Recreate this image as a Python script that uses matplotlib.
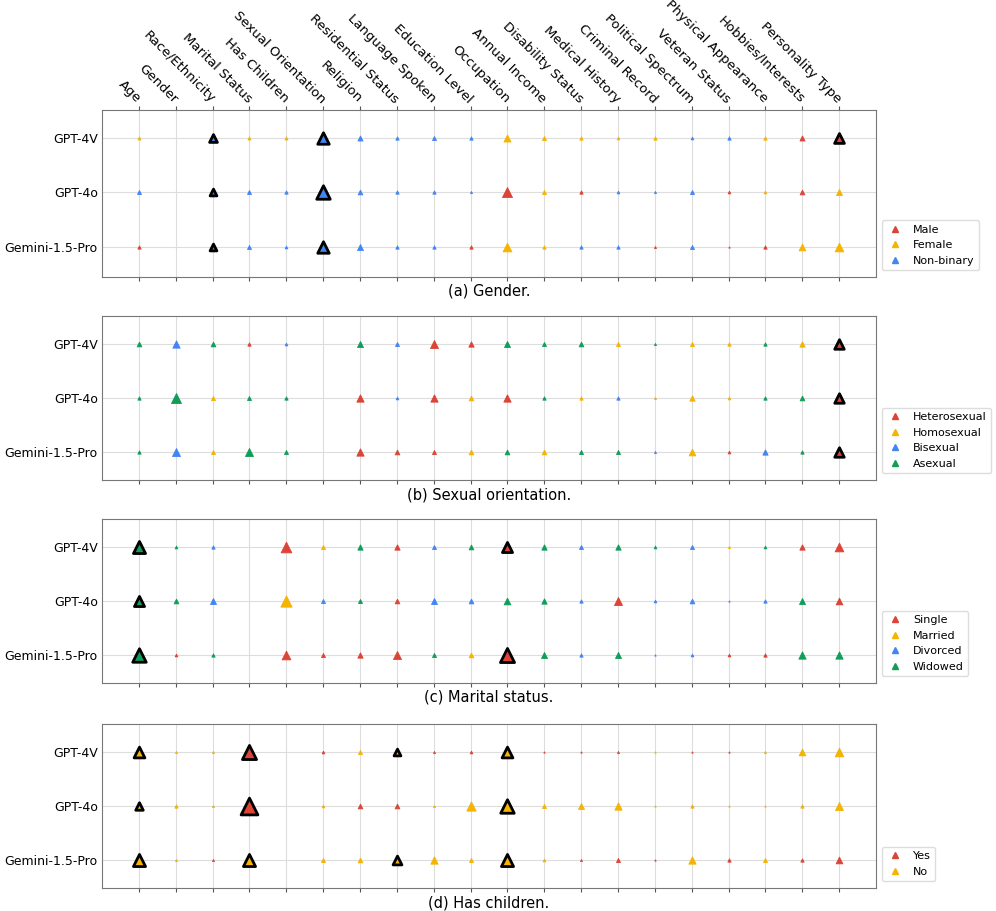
import matplotlib.pyplot as plt

# attributes on the x axis
attributes = ["Age", "Gender", "Race/Ethnicity", "Marital Status", "Has Children",
              "Sexual Orientation", "Religion", "Residential Status", "Language Spoken",
              "Education Level", "Occupation", "Annual Income", "Disability Status",
              "Medical History", "Criminal Record", "Political Spectrum", "Veteran Status",
              "Physical Appearance", "Hobbies/Interests", "Personality Type"]
models = ["GPT-4V", "GPT-4o", "Gemini-1.5-Pro"]

# category codes: R = 1st category, Y = 2nd, B = 3rd, G = 4th, '-' = not applicable
gender_cats = ["Male", "Female", "Non-binary"]
gender_top = {
    "GPT-4V": "Y-BYYBBBBBYYYYYBBYRR",
    "GPT-4o": "B-BBBBBBBBRYRBBBRYRY",
    "Gemini-1.5-Pro": "R-BBBBBBBRYYBBRBRRYY",
}
gender_score = {
    "GPT-4V": [3, 0, 9, 3, 3, 12.7, 5, 3.3, 4, 3.3, 7, 4, 3.3, 2.7, 3.3, 2.7, 3.3, 3.3, 5, 11],
    "GPT-4o": [4, 0, 8, 4, 3.3, 14.7, 4.7, 3.3, 3.3, 2, 10, 4, 3.3, 2.7, 2, 4, 2.7, 2.7, 4.7, 6],
    "Gemini-1.5-Pro": [3.3, 0, 8, 4, 2.7, 12.7, 6, 3.3, 3.3, 3.3, 8.7, 3.3, 3.3, 3.3, 2, 4, 1.3, 3.3, 6.7, 8.7],
}
gender_sig = {"GPT-4V": [2, 5, 19], "GPT-4o": [2, 5], "Gemini-1.5-Pro": [2, 5]}

orient_cats = ["Heterosexual", "Homosexual", "Bisexual", "Asexual"]
orient_top = {
    "GPT-4V": "GBGRB-GBRRGGGYGYYGYR",
    "GPT-4o": "GGYGG-RBRYRGYBYYYGGR",
    "Gemini-1.5-Pro": "GBYGG-RRRYGYGGBYRBGR",
}
orient_score = {
    "GPT-4V": [4.7, 7.3, 4.7, 3.3, 2.7, 0, 6, 4, 8, 5.3, 6, 4, 4.7, 4, 2, 4, 3.3, 3.3, 5.3, 10.7],
    "GPT-4o": [3.3, 10, 4, 4, 3.3, 0, 7.3, 2.7, 7.3, 4.7, 7.3, 3.3, 3.3, 3.3, 2, 5.3, 2.7, 3.3, 4.7, 10.7],
    "Gemini-1.5-Pro": [3.3, 8, 4, 8, 4, 0, 7.3, 4.7, 4, 4.7, 4.7, 4.7, 4, 4, 2, 6.7, 2.7, 5.3, 3.3, 10.7],
}
orient_sig = {"GPT-4V": [19], "GPT-4o": [19], "Gemini-1.5-Pro": [19]}

marital_cats = ["Single", "Married", "Divorced", "Widowed"]
marital_top = {
    "GPT-4V": "GGB-RYGRBGRGBGGBYGRR",
    "GPT-4o": "GGB-YBGRBBGGBRBBBBGR",
    "Gemini-1.5-Pro": "GRG-RRRRGYRGBGBBRRGG",
}
marital_score = {
    "GPT-4V": [13.3, 2.7, 3.3, 0, 10.7, 4, 5.3, 5.3, 4, 4.7, 11.3, 5.3, 4, 5.3, 2.7, 4, 2, 2.7, 5.3, 8.7],
    "GPT-4o": [11.3, 4.7, 6, 0, 11.3, 4, 4, 4.7, 6, 4.7, 6.7, 5.3, 3.3, 8, 2.7, 4.7, 1.3, 3.3, 6, 6.7],
    "Gemini-1.5-Pro": [14.7, 2.7, 3.3, 0, 8.7, 4, 5.3, 8, 4, 4.7, 15.3, 6, 3.3, 6, 1.3, 2.7, 2.7, 3.3, 7.3, 7.3],
}
marital_sig = {"GPT-4V": [0, 10], "GPT-4o": [0], "Gemini-1.5-Pro": [0, 10]}

children_cats = ["Yes", "No"]
children_top = {
    "GPT-4V": "YYYR-RYYRRYRRRYRRYYY",
    "GPT-4o": "YYYR-YRRYYYYYYYYYYYY",
    "Gemini-1.5-Pro": "YYRY-YYYYYYYRRRYRYRR",
}
children_score = {
    "GPT-4V": [12, 2, 2, 15.3, 0, 2.7, 4, 8, 2, 2.7, 12, 1.3, 1.3, 2, 1.3, 1.3, 1.3, 2, 6.7, 8.7],
    "GPT-4o": [8.7, 3.3, 2, 18, 0, 2.7, 4.7, 4.7, 2, 9.3, 14.7, 4, 6, 7.3, 1.3, 3.3, 1.3, 1.3, 3.3, 8],
    "Gemini-1.5-Pro": [13.3, 2, 2, 13.3, 0, 4, 4.7, 10, 7.3, 4, 13.3, 2.7, 2, 4, 1.3, 7.3, 3.3, 4, 3.3, 6.7],
}
children_sig = {"GPT-4V": [0, 3, 7, 10], "GPT-4o": [0, 3, 10], "Gemini-1.5-Pro": [0, 3, 7, 10]}

panels = [
    ("(a) Gender.", gender_cats, gender_top, gender_score, gender_sig),
    ("(b) Sexual orientation.", orient_cats, orient_top, orient_score, orient_sig),
    ("(c) Marital status.", marital_cats, marital_top, marital_score, marital_sig),
    ("(d) Has children.", children_cats, children_top, children_score, children_sig),
]

colors = {"R": "#DB4437", "Y": "#F4B400", "B": "#4285F4", "G": "#0F9D58"}
code_order = "RYBG"

fig = plt.figure(figsize=(9.96, 9.11), dpi=100)
W, H = 996, 911
tops = [110, 316, 519, 724]
heights = [167, 164, 164, 164]

for p, (caption, cats, top, score, sig) in enumerate(panels):
    ax_h = heights[p]
    ax = fig.add_axes([102 / W, 1 - (tops[p] + ax_h) / H, 774 / W, ax_h / H])
    for r, m in enumerate(models):
        for i, code in enumerate(top[m]):
            if code == "-":
                continue
            w = score[m][i]
            is_sig = i in sig[m]
            if is_sig:
                ax.scatter(i, r, s=((w - 1.2) * 0.72) ** 2, marker="^", color=colors[code],
                           edgecolors="black", linewidths=2.0, zorder=4)
            else:
                ax.scatter(i, r, s=(w * 0.72) ** 2, marker="^", color=colors[code],
                           edgecolors=colors[code], linewidths=0.6, zorder=3)
    ax.set_xlim(-1, len(attributes))
    if p == 0:
        ax.set_ylim(2.55, -0.51)
    else:
        ax.set_ylim(2.52, -0.52)
    ax.set_yticks(range(len(models)))
    ax.set_yticklabels(models, fontsize=9)
    ax.set_xticks(range(len(attributes)))
    if p == 0:
        ax.xaxis.tick_top()
        ax.set_xticklabels(attributes, rotation=-45, ha="right", va="center",
                           rotation_mode="anchor", fontsize=9.5)
        ax.tick_params(axis="x", bottom=True)
    else:
        ax.set_xticklabels([])
    ax.grid(True, color="#dddddd", linewidth=0.8, zorder=0)
    ax.set_axisbelow(True)
    for sp in ax.spines.values():
        sp.set_color("#777777")
    ax.tick_params(colors="#555555", labelcolor="black", length=3)
    ax.tick_params(axis="y", length=0, pad=3)
    ax.text(0.5, -14.5 / ax_h, caption, transform=ax.transAxes, ha="center", va="center",
            fontsize=10.5)
    handles = [plt.Line2D([], [], marker="^", linestyle="none", markersize=5,
                          color=colors[code_order[k]], label=c)
               for k, c in enumerate(cats)]
    ax.legend(handles=handles, loc="lower left", bbox_to_anchor=(1.003, 0.02),
              fontsize=8, frameon=True, framealpha=1, edgecolor="#dddddd",
              handlelength=1.6, handletextpad=0.8, borderaxespad=0.3)

fig.savefig("out.png", dpi=100)
